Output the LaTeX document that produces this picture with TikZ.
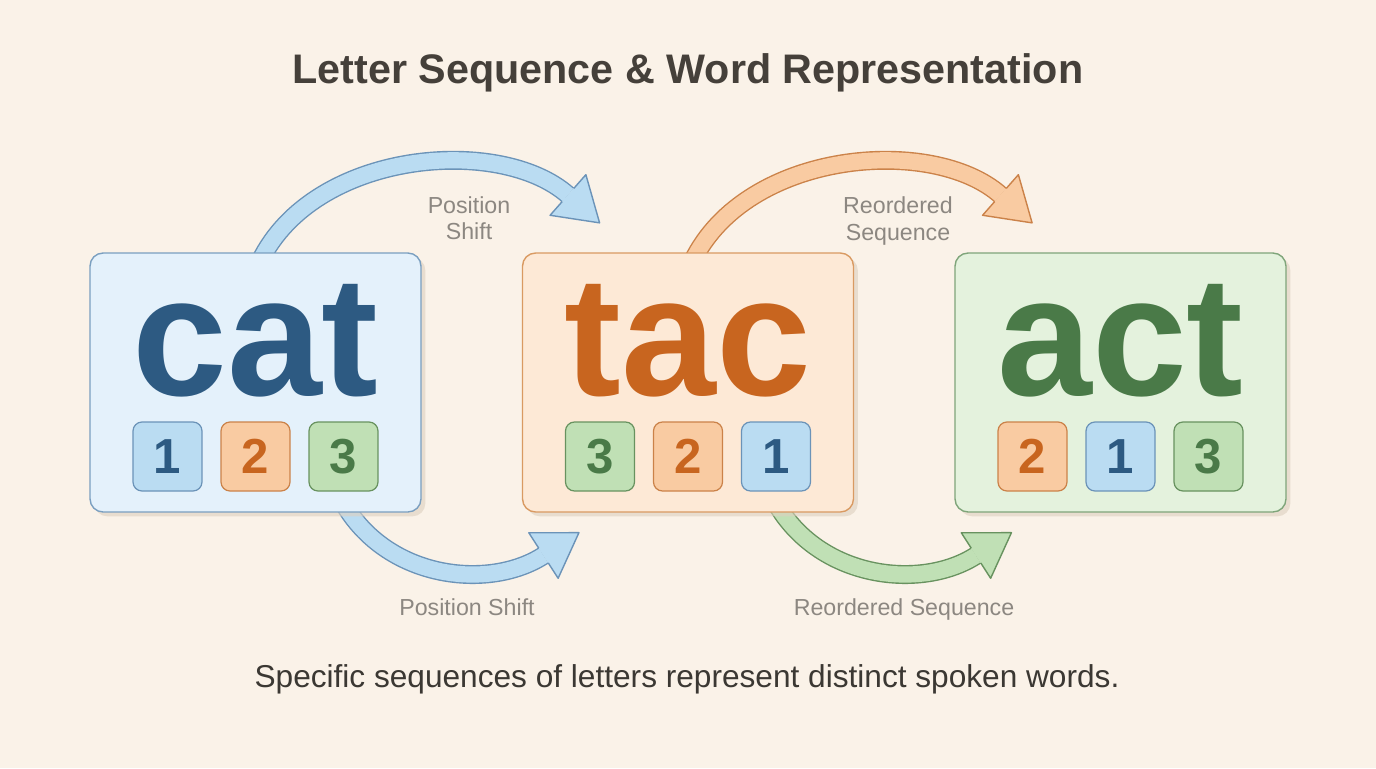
\documentclass[tikz,border=0pt]{standalone}
\usepackage{fontspec}
\setmainfont{Liberation Sans}
\usetikzlibrary{calc,shadows,decorations.markings}
\definecolor{cream}{HTML}{FAF2E8}
\definecolor{titleink}{HTML}{45403A}
\definecolor{bodyink}{HTML}{3B3833}
\definecolor{hintink}{HTML}{8C8781}
\definecolor{shadowtan}{HTML}{DDD0BF}
\definecolor{bluebox}{HTML}{E4F1FB}
\definecolor{blueedge}{HTML}{7A9FC0}
\definecolor{blueink}{HTML}{2D5A82}
\definecolor{bluetile}{HTML}{BADCF2}
\definecolor{bluetileedge}{HTML}{6B93B8}
\definecolor{orangebox}{HTML}{FDE9D6}
\definecolor{orangeedge}{HTML}{D99A62}
\definecolor{orangeink}{HTML}{C8651F}
\definecolor{orangetile}{HTML}{F9CBA2}
\definecolor{orangetileedge}{HTML}{CB8249}
\definecolor{greenbox}{HTML}{E4F2DD}
\definecolor{greenedge}{HTML}{7FA57A}
\definecolor{greenink}{HTML}{4A7A48}
\definecolor{greentile}{HTML}{C0E0B5}
\definecolor{greentileedge}{HTML}{68925F}
\pgfdeclarelayer{bg}
\pgfdeclarelayer{flow}
\pgfsetlayers{bg,flow,main}
\begin{document}
\begin{tikzpicture}[x=0.02cm, y=-0.02cm,
  wordbox/.style={rounded corners=0.26cm, minimum width=6.62cm, minimum height=5.18cm, line width=0.8pt, drop shadow={shadow xshift=2.5pt, shadow yshift=-2.5pt, fill=shadowtan, opacity=0.6}},
  word/.style={font=\fontsize{97}{97}\selectfont\bfseries, anchor=base, inner sep=0pt},
  tile/.style={rounded corners=0.18cm, minimum width=1.38cm, minimum height=1.38cm, line width=0.7pt, font=\fontsize{28}{28}\selectfont\bfseries, inner sep=0pt},
  hint/.style={font=\fontsize{13.2}{15}\selectfont, text=hintink, inner sep=0pt},
  band/.style={line width=0.8pt, double distance=9.2pt},
  arrowhead/.style 2 args={postaction={decorate}, decoration={markings, mark=at position 0.9999 with {
      \fill[#1] (0pt,-15.4pt) -- (24pt,0pt) -- (0pt,15.4pt) -- cycle;
      \draw[#2, line width=0.8pt, line join=round] (0pt,-5pt) -- (0pt,-15.4pt) -- (24pt,0pt) -- (0pt,15.4pt) -- (0pt,5pt);}}}]
\useasboundingbox (0,0) rectangle (1376,768);
\begin{pgfonlayer}{bg}
\fill[cream] (0,0) rectangle (1376,768);
\end{pgfonlayer}

\node[font=\fontsize{23.5}{23.5}\selectfont\bfseries, text=titleink, anchor=base] (title) at (688,83) {Letter Sequence \& Word Representation};

% word boxes
\node[wordbox, fill=bluebox, draw=blueedge] (cat) at (255.5,382.5) {};
\node[wordbox, fill=orangebox, draw=orangeedge] (tac) at (688,382.5) {};
\node[wordbox, fill=greenbox, draw=greenedge] (act) at (1120.5,382.5) {};
\node[word, text=blueink] (catw) at (255.5,395) {cat};
\node[word, text=orangeink] (tacw) at (688,395) {tac};
\node[word, text=greenink] (actw) at (1120.5,395) {act};

% position tiles
\node[tile, fill=bluetile, draw=bluetileedge, text=blueink] (c1) at (167.5,456.5) {1};
\node[tile, fill=orangetile, draw=orangetileedge, text=orangeink] (c2) at (255.5,456.5) {2};
\node[tile, fill=greentile, draw=greentileedge, text=greenink] (c3) at (343.5,456.5) {3};
\node[tile, fill=greentile, draw=greentileedge, text=greenink] (t1) at (600,456.5) {3};
\node[tile, fill=orangetile, draw=orangetileedge, text=orangeink] (t2) at (688,456.5) {2};
\node[tile, fill=bluetile, draw=bluetileedge, text=blueink] (t3) at (776,456.5) {1};
\node[tile, fill=orangetile, draw=orangetileedge, text=orangeink] (a1) at (1032.5,456.5) {2};
\node[tile, fill=bluetile, draw=bluetileedge, text=blueink] (a2) at (1120.5,456.5) {1};
\node[tile, fill=greentile, draw=greentileedge, text=greenink] (a3) at (1208.5,456.5) {3};

% shift arrows
\coordinate (p1e) at (568,195);
\coordinate (p2e) at (543.5,555.5);
\coordinate (r1e) at (1000.5,195);
\coordinate (r2e) at (976,555.5);
\begin{pgfonlayer}{flow}
\draw[band, draw=bluetileedge, double=bluetile, arrowhead={bluetile}{bluetileedge}] ($(cat.north)+(4.5,9)$) .. controls (314,150) and (500,135) .. (p1e);
\draw[band, draw=bluetileedge, double=bluetile, arrowhead={bluetile}{bluetileedge}] ($(cat.south)+(89.5,-7)$) .. controls (390,580) and (490,590) .. (p2e);
\draw[band, draw=orangetileedge, double=orangetile, arrowhead={orangetile}{orangetileedge}] ($(tac.north)+(4.5,9)$) .. controls (746.5,150) and (932.5,135) .. (r1e);
\draw[band, draw=greentileedge, double=greentile, arrowhead={greentile}{greentileedge}] ($(tac.south)+(89.5,-7)$) .. controls (822.5,580) and (922.5,590) .. (r2e);
\end{pgfonlayer}

\node[hint, align=center] (n1) at (469,218) {Position\\Shift};
\node[hint, align=center] (n2) at (898,221) {Reordered\\Sequence};
\node[hint, anchor=base] (n3) at (467,615.5) {Position Shift};
\node[hint, anchor=base] (n4) at (904,615.5) {Reordered Sequence};

\node[font=\fontsize{18}{20}\selectfont, text=bodyink, anchor=base] (caption) at (687,687) {Specific sequences of letters represent distinct spoken words.};
\end{tikzpicture}
\end{document}
